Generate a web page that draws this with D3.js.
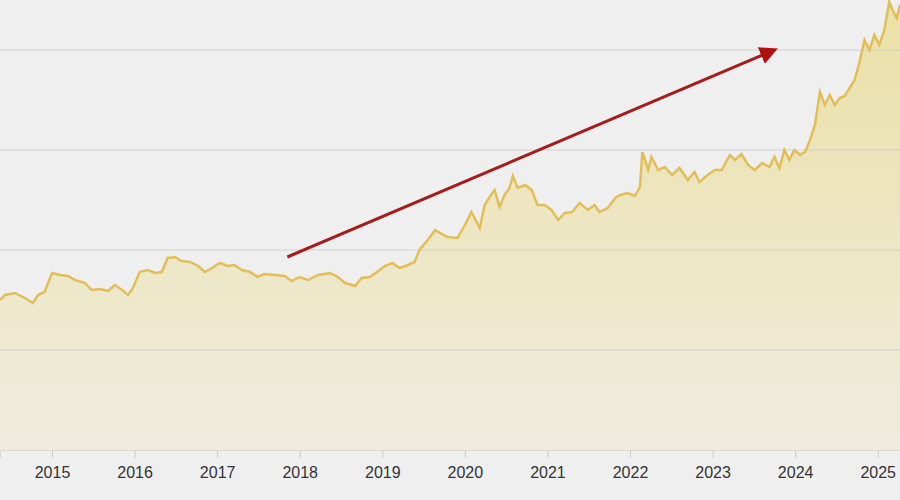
<!DOCTYPE html><html><head><meta charset="utf-8"><script src="https://cdn.jsdelivr.net/npm/d3@7"></script>
<style>body{margin:0;background:#efefef}</style></head><body><svg id="c" width="900" height="500"></svg><script>
const years=[2014.37,2014.43,2014.55,2014.67,2014.77,2014.83,2014.91,2015.0,2015.10,2015.19,2015.28,2015.40,2015.48,2015.58,2015.68,2015.76,2015.85,2015.92,2015.98,2016.06,2016.16,2016.25,2016.33,2016.40,2016.49,2016.57,2016.67,2016.77,2016.85,2016.94,2017.03,2017.13,2017.21,2017.30,2017.40,2017.49,2017.57,2017.70,2017.82,2017.90,2018.00,2018.10,2018.22,2018.37,2018.46,2018.55,2018.67,2018.75,2018.85,2018.95,2019.03,2019.12,2019.21,2019.31,2019.39,2019.45,2019.55,2019.64,2019.70,2019.79,2019.91,2020.0,2020.08,2020.18,2020.24,2020.30,2020.36,2020.42,2020.48,2020.54,2020.58,2020.64,2020.73,2020.81,2020.88,2020.97,2021.05,2021.13,2021.21,2021.30,2021.39,2021.49,2021.57,2021.63,2021.73,2021.82,2021.88,2021.97,2022.06,2022.12,2022.15,2022.22,2022.26,2022.34,2022.42,2022.51,2022.60,2022.70,2022.78,2022.84,2022.94,2023.03,2023.11,2023.21,2023.27,2023.35,2023.43,2023.51,2023.60,2023.69,2023.75,2023.81,2023.87,2023.93,2023.99,2024.06,2024.12,2024.18,2024.24,2024.30,2024.36,2024.42,2024.48,2024.54,2024.60,2024.66,2024.72,2024.78,2024.84,2024.90,2024.96,2025.02,2025.08,2025.14,2025.18,2025.23,2025.27];
const ys=[300,295,293,298,303,295,292,273,275,276,280,283,290,289,291,285,290,295,288,272,270,273,272,258,257,261,262,266,272,268,263,266,265,270,272,277,274,275,276,281,277,280,275,273,277,283,286,278,277,271,266,263,268,265,262,250,240,230,233,237,238,225,212,228,205,197,190,207,195,188,176,188,185,190,205,205,210,220,213,212,203,210,205,212,208,198,195,193,196,187,152,170,157,170,167,175,168,180,172,182,175,170,170,155,160,154,165,170,163,167,157,168,150,160,150,155,152,140,125,92,105,95,105,98,96,88,80,62,40,50,35,45,30,2,10,18,5];
const values=ys.map(v=>450-v);
const tickYears=[2015,2016,2017,2018,2019,2020,2021,2022,2023,2024,2025];
const gridVals=[100,200,300,400];
const svg=d3.select("#c");
const x=d3.scaleLinear().domain([2014.37,2025.27]).range([0,900]);
const y=d3.scaleLinear().domain([0,450]).range([450,0]);
const data=years.map((t,i)=>({t,v:values[i]}));
const defs=svg.append("defs");
const g=defs.append("linearGradient").attr("id","gr").attr("x1",0).attr("y1",0).attr("x2",0).attr("y2",1);
g.append("stop").attr("offset","0%").attr("stop-color","#ebe0a6");
g.append("stop").attr("offset","100%").attr("stop-color","#efecde");
defs.append("marker").attr("id","ah").attr("viewBox","0 0 10 10").attr("refX",5).attr("refY",5).attr("markerWidth",6).attr("markerHeight",6).attr("orient","auto")
 .append("path").attr("d","M0,0L10,5L0,10z").attr("fill","#b01010");
svg.append("path").datum(data).attr("fill","url(#gr)").attr("d",d3.area().x(d=>x(d.t)).y0(y(0)).y1(d=>y(d.v)));
svg.selectAll(".gl").data(gridVals).join("line").attr("x1",0).attr("x2",900).attr("y1",d=>y(d)).attr("y2",d=>y(d)).attr("stroke","#c8c8c8").attr("stroke-opacity",0.7);
svg.append("path").datum(data).attr("fill","none").attr("stroke","#e2be58").attr("stroke-width",2.5).attr("d",d3.line().x(d=>x(d.t)).y(d=>y(d.v)));
svg.append("line").attr("x1",x(2017.85)).attr("y1",257).attr("x2",x(2023.69)).attr("y2",52).attr("stroke","#a51c1c").attr("stroke-width",3).attr("marker-end","url(#ah)");
const ax=svg.append("g").attr("transform","translate(0,450)").call(d3.axisBottom(x).tickValues(tickYears).tickFormat(d3.format("d")).tickSize(8).tickPadding(9));
ax.select(".domain").attr("stroke","#d8d8d8");
ax.selectAll(".tick line").attr("stroke","#ccc");
ax.selectAll("text").attr("font-family","Liberation Sans, Arial").attr("font-size",16).attr("fill","#333");
</script></body></html>
